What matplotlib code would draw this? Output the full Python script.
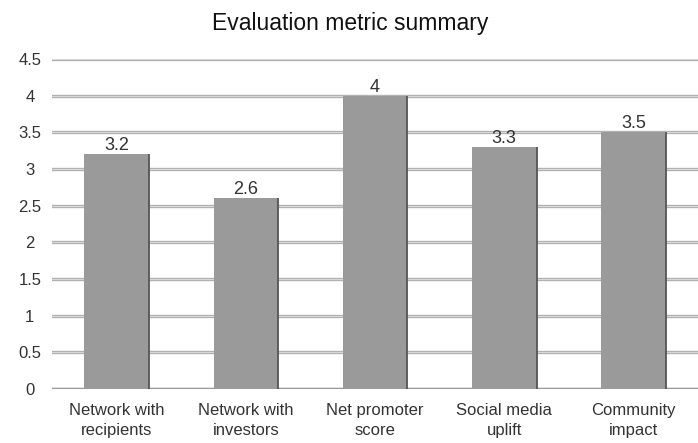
import matplotlib
matplotlib.use("Agg")
import matplotlib.pyplot as plt
import numpy as np

categories = ["Network with\nrecipients", "Network with\ninvestors", "Net promoter\nscore",
              "Social media\nuplift", "Community\nimpact"]
values = [3.2, 2.6, 4.0, 3.3, 3.5]
value_labels = ["3.2", "2.6", "4", "3.3", "3.5"]
yticks = [0, 0.5, 1, 1.5, 2, 2.5, 3, 3.5, 4, 4.5]
ytick_labels = ["0", "0.5", "1", "1.5", "2", "2.5", "3", "3.5", "4", "4.5"]
title = "Evaluation metric summary"

plt.rcParams['font.family'] = ['Liberation Sans', 'DejaVu Sans']

fig = plt.figure(figsize=(6.98, 4.43), dpi=100)
ax = fig.add_axes([0.0745, 0.122, 0.9255, 0.745])

x = np.arange(len(categories))
w = 0.5
ax.bar(x, values, width=w, color="#9a9a9a", zorder=3)
ax.vlines(x + w / 2, 0, values, color="#555555", lw=1.3, zorder=4)

for xi, v, lab in zip(x, values, value_labels):
    ax.text(xi, v + 0.0, lab, ha="center", va="bottom", fontsize=13, color="#333333", zorder=5)

ax.set_xlim(-0.5, len(categories) - 0.5)
ax.set_ylim(0, 4.5)
ax.set_yticks(yticks)
ax.set_yticklabels(ytick_labels, fontsize=12, color="#333333")
ax.set_xticks(x)
ax.set_xticklabels(categories, fontsize=12, color="#333333", linespacing=1.45)
ax.tick_params(axis="both", length=0)
ax.tick_params(axis="y", pad=16)
ax.tick_params(axis="x", pad=10)
for t in ax.get_yticklabels():
    t.set_horizontalalignment("center")

for yv in yticks:
    ax.axhline(yv, color="#b0b0b0", lw=2.4, zorder=1)
    ax.axhline(yv, color="#d8d8d8", lw=0.8, zorder=1.5)
ax.axhline(0, color="#999999", lw=2.4, zorder=2)

for s in ax.spines.values():
    s.set_visible(False)

fig.text(0.501, 0.948, title, ha="center", va="center", fontsize=16.5, color="#111111")

fig.savefig("out.png", dpi=100)
